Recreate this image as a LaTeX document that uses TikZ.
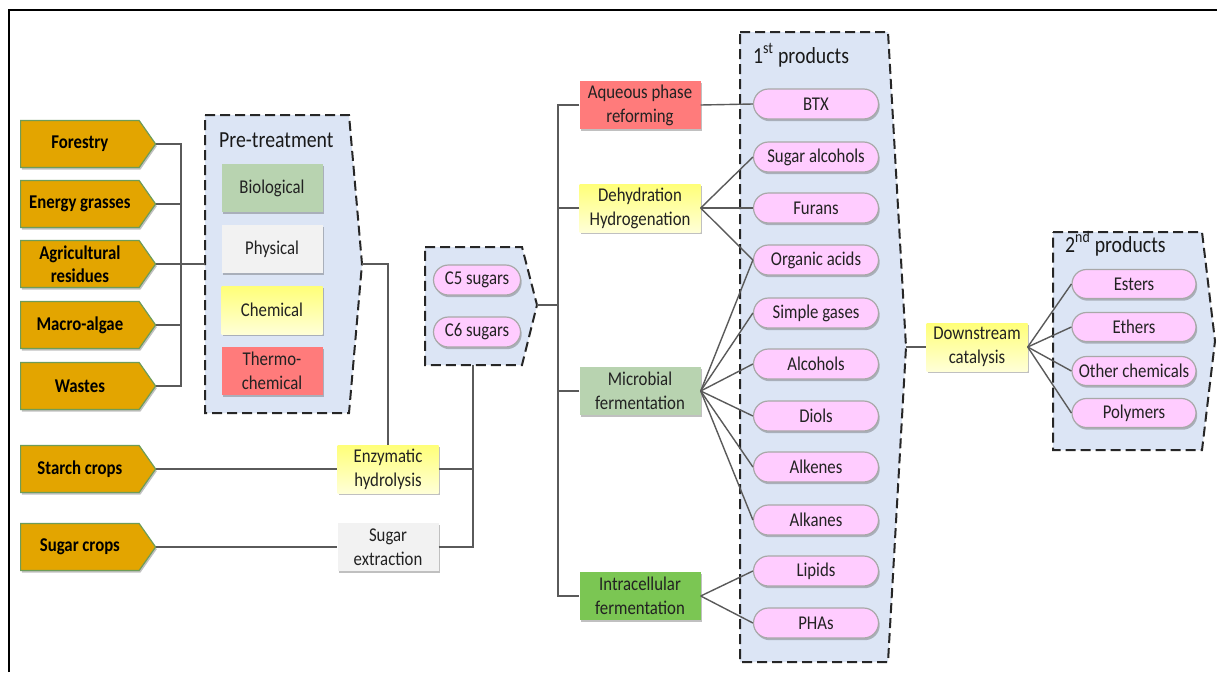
\documentclass[tikz,border=0pt]{standalone}
\usepackage{fontspec}
\setmainfont{Carlito}[FakeStretch=0.86]
\usetikzlibrary{shapes.symbols,shapes.misc,shadows}
\definecolor{gold}{HTML}{E3A500}
\definecolor{srcborder}{HTML}{6E9C58}
\definecolor{linegray}{HTML}{5A5A5A}
\definecolor{grpfill}{HTML}{DCE5F5}
\definecolor{bio}{HTML}{B8D3B0}
\definecolor{phys}{HTML}{F2F2F2}
\definecolor{thermo}{HTML}{FF7B7B}
\definecolor{intra}{HTML}{7BC653}
\definecolor{pink}{HTML}{FFCCFF}
\definecolor{pillborder}{HTML}{A8A8A8}
\definecolor{txt}{HTML}{222222}
\begin{document}
\begin{tikzpicture}[x=1pt,y=-1pt,
  conn/.style={draw=linegray,line width=1.4pt},
  shad/.style={drop shadow={shadow xshift=1.2pt,shadow yshift=-2.2pt,opacity=0.35,fill=black!70}},
  src/.style={shape=signal,signal to=east,signal pointer angle=110,fill=gold,draw=srcborder,line width=1.2pt,
    minimum width=135pt,minimum height=47pt,inner sep=0pt,align=center,
    font=\bfseries\fontsize{19.5}{23}\selectfont,text=black,shad},
  box/.style={rectangle,minimum width=101pt,minimum height=48pt,inner sep=0pt,align=center,
    font=\fontsize{19.5}{24}\selectfont,text=txt,shad},
  wbox/.style={box,minimum width=121pt},
  yel/.style={top color={rgb,255:red,255;green,255;blue,120},bottom color={rgb,255:red,255;green,255;blue,215}},
  pill/.style={rounded rectangle,minimum width=125pt,minimum height=30pt,inner sep=0pt,fill=pink,draw=pillborder,
    line width=1.2pt,font=\fontsize{19.5}{23}\selectfont,text=txt,shad},
  grp/.style={draw=black!85,line width=2pt,dash pattern=on 10pt off 5pt,fill=grpfill},
  ttl/.style={font=\fontsize{23}{27}\selectfont,text=black!90,anchor=base west,inner sep=0pt}
]
\useasboundingbox (0,0) rectangle (1217,672);
\fill[white] (0,0) rectangle (1217,672);
\draw[line width=2.2pt] (9,672) -- (9,10) -- (1217,10);

% ---- group boxes
\draw[grp] (205,115) -- (349,115) -- (362,264) coordinate (pttip) -- (349,413) -- (205,413) -- cycle;
\node[ttl] (pttitle) at (219,147) {Pre-treatment};
\draw[grp] (425,247) -- (522,247) -- (537,305) coordinate (ctip) -- (522,365) -- (425,365) -- cycle;
\coordinate (cbottom) at (473,365);
\draw[grp] (740,32) -- (888,32) -- (906,347) coordinate (p1tip) -- (888,662) -- (740,662) -- cycle;
\node[ttl] (p1title) at (753,63) {1\textsuperscript{st} products};
\draw[grp] (1053,232) -- (1202,232) -- (1215,341) -- (1202,450) -- (1053,450) -- cycle;
\node[ttl] (p2title) at (1065,252) {2\textsuperscript{nd} products};

% ---- sources
\node[src,anchor=west] (forestry) at (20,144) {Forestry};
\node[src,anchor=west] (energy) at (20,204) {Energy grasses};
\node[src,anchor=west] (agri) at (20,264) {Agricultural\\residues};
\node[src,anchor=west] (macro) at (20,325) {Macro-algae};
\node[src,anchor=west] (wastes) at (20,386) {Wastes};
\node[src,anchor=west] (starch) at (20,469) {Starch crops};
\node[src,anchor=west] (sugarc) at (20,547) {Sugar crops};

% ---- pre-treatment contents
\node[box,fill=bio] (bio) at (272,188) {Biological};
\node[box,fill=phys] (phys) at (272,249) {Physical};
\node[box,yel] (chem) at (272,310) {Chemical};
\node[box,fill=thermo] (therm) at (272,371) {Thermo-\\chemical};

\node[box,yel] (enz) at (388,469) {Enzymatic\\hydrolysis};
\node[box,fill=phys] (sext) at (388,547) {Sugar\\extraction};

\node[pill,minimum width=87pt] (c5) at (477,280) {C5 sugars};
\node[pill,minimum width=87pt] (c6) at (477,332) {C6 sugars};

% ---- processes
\node[wbox,fill=thermo] (aq) at (640,105) {Aqueous phase\\reforming};
\node[wbox,yel] (dh) at (640,208) {Dehydration\\Hydrogenation};
\node[wbox,fill=bio] (mf) at (640,391) {Microbial\\fermentation};
\node[wbox,fill=intra] (icf) at (640,596) {Intracellular\\fermentation};

% ---- first products
\node[pill] (btx) at (816,104) {BTX};
\node[pill] (salc) at (816,157) {Sugar alcohols};
\node[pill] (fur) at (816,208) {Furans};
\node[pill] (oac) at (816,260) {Organic acids};
\node[pill] (sgas) at (816,313) {Simple gases};
\node[pill] (alc) at (816,364) {Alcohols};
\node[pill] (diol) at (816,416) {Diols};
\node[pill] (alke) at (816,467) {Alkenes};
\node[pill] (alka) at (816,520) {Alkanes};
\node[pill] (lip) at (816,571) {Lipids};
\node[pill] (pha) at (816,623) {PHAs};

\node[box,yel] (ds) at (977,347) {Downstream\\catalysis};

% ---- second products
\node[pill,minimum width=124pt,minimum height=29pt] (est) at (1134,284) {Esters};
\node[pill,minimum width=124pt,minimum height=29pt] (eth) at (1134,327) {Ethers};
\node[pill,minimum width=124pt,minimum height=29pt] (oth) at (1134,371) {Other chemicals};
\node[pill,minimum width=124pt,minimum height=29pt] (pol) at (1134,413) {Polymers};

% ---- connectors
\draw[conn] (forestry.east) -- (181,144) -- (181,386) -- (wastes.east);
\draw[conn] (energy.east) -- (181,204);
\draw[conn] (agri.east) -- (205,264);
\draw[conn] (macro.east) -- (181,325);
\draw[conn] (pttip) -- (388,264) -- (enz.north);
\draw[conn] (starch.east) -- (enz.west);
\draw[conn] (sugarc.east) -- (sext.west);
\draw[conn] (enz.east) -- (473,469);
\draw[conn] (sext.east) -- (473,547) -- (cbottom);
\draw[conn] (ctip) -- (558,305);
\draw[conn] (aq.west) -- (558,105) -- (558,596) -- (icf.west);
\draw[conn] (dh.west) -- (558,208);
\draw[conn] (mf.west) -- (558,391);
\draw[conn] (aq.east) -- (btx.west);
\foreach \t in {salc,fur,oac} \draw[conn] (dh.east) -- (\t.west);
\foreach \t in {oac,sgas,alc,diol,alke,alka} \draw[conn] (mf.east) -- (\t.west);
\foreach \t in {lip,pha} \draw[conn] (icf.east) -- (\t.west);
\draw[conn] (p1tip) -- (ds.west);
\foreach \t in {est,eth,oth,pol} \draw[conn] (ds.east) -- (\t.west);
\end{tikzpicture}
\end{document}
